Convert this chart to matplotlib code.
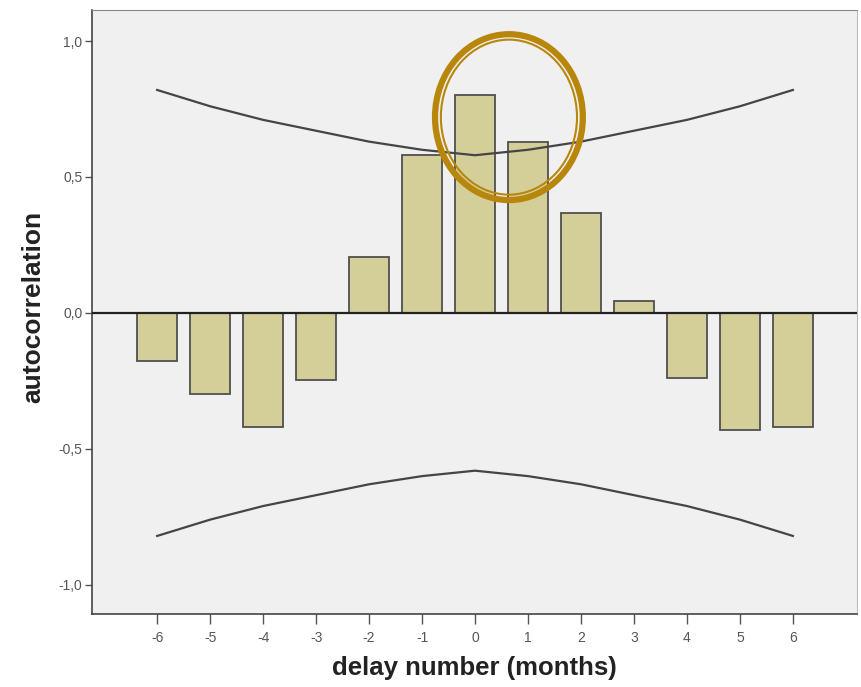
import matplotlib
matplotlib.use("Agg")
import matplotlib.pyplot as plt
from matplotlib.patches import Ellipse

lags = [-6, -5, -4, -3, -2, -1, 0, 1, 2, 3, 4, 5, 6]
acf = [-0.176, -0.298, -0.418, -0.245, 0.204, 0.581, 0.80, 0.628, 0.366, 0.044, -0.24, -0.43, -0.42]
upper = [0.82, 0.76, 0.71, 0.67, 0.63, 0.60, 0.58, 0.60, 0.63, 0.67, 0.71, 0.76, 0.82]
lower = [-v for v in upper]
yticks = [-1.0, -0.5, 0.0, 0.5, 1.0]
ytick_labels = ["-1,0", "-0,5", "0,0", "0,5", "1,0"]

plt.rcParams['font.family'] = ['Liberation Sans', 'DejaVu Sans']

fig = plt.figure(figsize=(8.61, 6.87), dpi=100)
ax = fig.add_axes([92/861, 1-614/687, (857-92)/861, (614-10)/687])
ax.set_facecolor('#F0F0F0')

ax.bar(lags, acf, width=0.76, color='#D4CE99', edgecolor='#505050', linewidth=1.3, zorder=2)
ax.plot(lags, upper, color='#454545', lw=1.6, zorder=3)
ax.plot(lags, lower, color='#454545', lw=1.6, zorder=3)
ax.axhline(0, color='#222222', lw=1.6, zorder=4)

ax.set_xlim(-7.23, 7.21)
ax.set_ylim(-1.107, 1.114)
ax.set_xticks(lags)
ax.set_xticklabels([str(v) for v in lags])
ax.set_yticks(yticks)
ax.set_yticklabels(ytick_labels)

ax.tick_params(axis='both', direction='out', colors='#555555', labelcolor='#555555', labelsize=10)
ax.tick_params(axis='x', length=7, width=1, pad=5)
ax.tick_params(axis='y', length=5, width=1, pad=2)

for s in ['left', 'bottom']:
    ax.spines[s].set_color('#444444')
    ax.spines[s].set_linewidth(1.2)
ax.spines['top'].set_color('#888888')
ax.spines['right'].set_color('#BBBBBB')

ax.set_xlabel('delay number (months)', fontsize=18.5, fontweight='bold', color='#222222', va='center')
ax.set_ylabel('autocorrelation', fontsize=19, fontweight='bold', color='#222222', va='center')
ax.xaxis.set_label_coords(0.4993, -0.089)
ax.yaxis.set_label_coords(-0.077, 0.508)

# highlight ellipse (annotation)
gold = '#B8860B'
ax.add_patch(Ellipse((0.64, 0.72), 2.79, 0.61, fill=False, edgecolor=gold, lw=4.5, zorder=6, clip_on=False))
ax.add_patch(Ellipse((0.64, 0.72), 2.57, 0.57, fill=False, edgecolor=gold, lw=1.5, zorder=6, clip_on=False))

fig.savefig('out.png', dpi=100, facecolor='white')
